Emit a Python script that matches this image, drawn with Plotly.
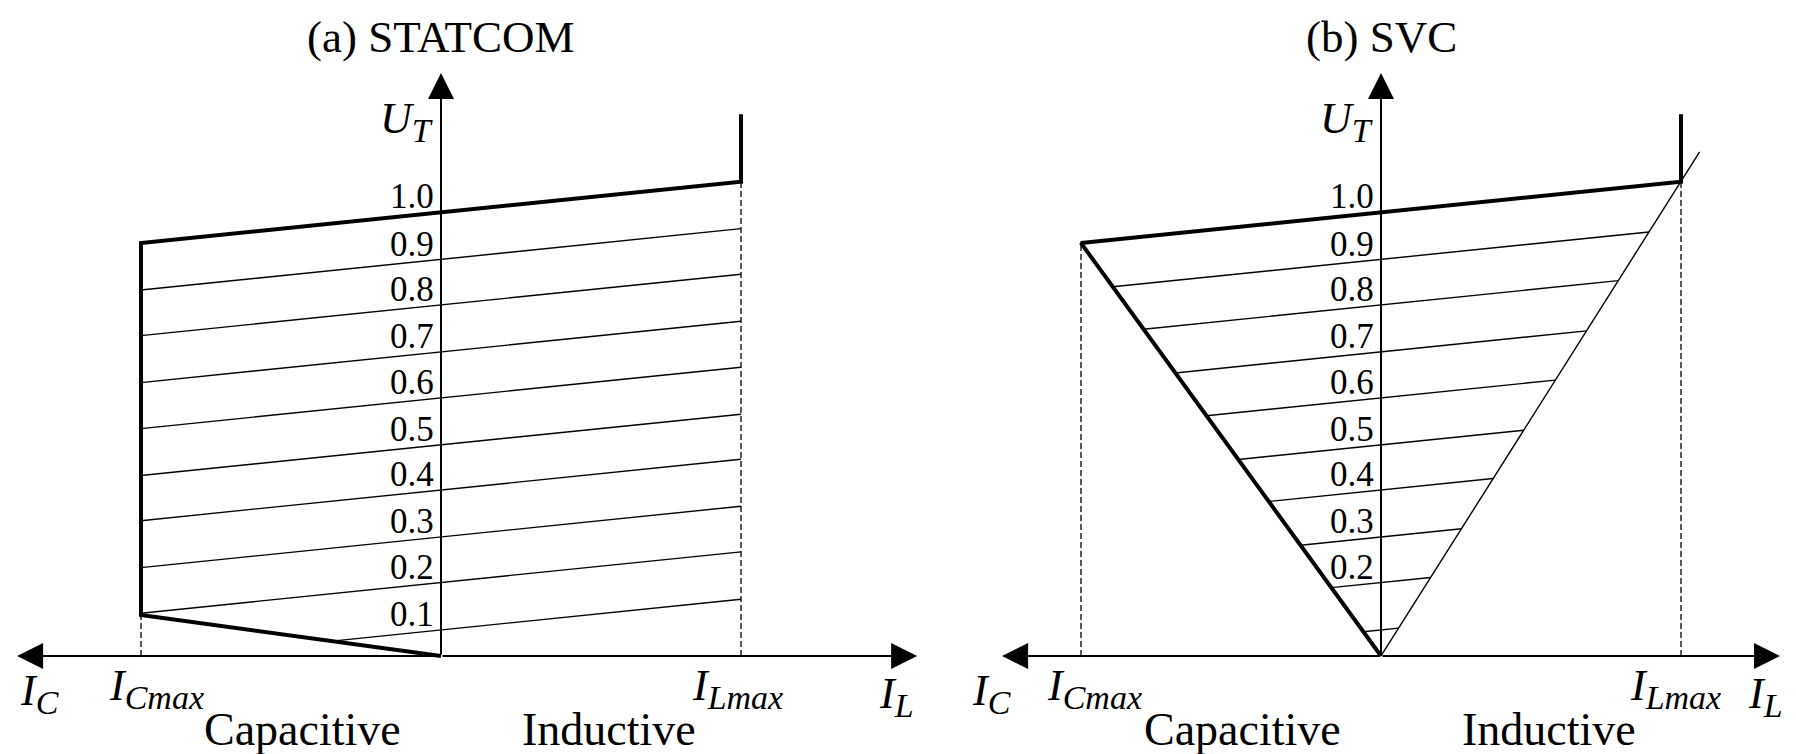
import plotly.graph_objects as go

# ---------------- data (normalised current I, terminal voltage U) ----------------
I_CMAX = -1.0
I_LMAX = 1.0

# labels of the family of V-I characteristics
levels = ["1.0", "0.9", "0.8", "0.7", "0.6", "0.5", "0.4", "0.3", "0.2", "0.1"]
# voltage where each characteristic crosses I = 0
u_at_zero = [0.956, 0.853, 0.755, 0.654, 0.555, 0.454, 0.357, 0.256, 0.158, 0.056]
droop_slope = 0.066  # dU/dI of each characteristic

# STATCOM thick outline
statcom_I = [1.0, 1.0, -1.0, -1.0, 0.0]
statcom_U = [1.165, 1.020, 0.888, 0.088, 0.0]

# SVC thick outline
svc_I = [1.0, 1.0, -1.0, 0.0]
svc_U = [1.165, 1.020, 0.888, 0.0]
# SVC inductive limit (thin)
svc_lim_I = [0.0, 1.062]
svc_lim_U = [0.0, 1.084]

svc_labelled = ["1.0", "0.9", "0.8", "0.7", "0.6", "0.5", "0.4", "0.3", "0.2"]

# axis extents (arrow tips)
left_axis = dict(xmin=-1.413, xmax=1.587, ymax=1.254)
right_axis = dict(xmin=-1.263, xmax=1.330, ymax=1.254)

FONT = "Liberation Serif, Times New Roman, serif"
BLACK = "black"

fig = go.Figure()


def line(xs, ys, w, xa, ya, dash=None):
    fig.add_trace(go.Scatter(x=xs, y=ys, mode="lines",
                             line=dict(color=BLACK, width=w, dash=dash),
                             xaxis=xa, yaxis=ya, hoverinfo="skip",
                             showlegend=False, cliponaxis=False))


# ---------------- (a) STATCOM ----------------
xa, ya = "x", "y"
bottom_slope = (statcom_U[3] - statcom_U[4]) / (statcom_I[3] - statcom_I[4])
for u0 in u_at_zero[1:]:
    i_start = max(I_CMAX, -u0 / (droop_slope - bottom_slope))
    line([i_start, I_LMAX], [u0 + droop_slope * i_start, u0 + droop_slope * I_LMAX], 1.4, xa, ya)
# dashed limits
line([I_CMAX, I_CMAX], [0, statcom_U[3]], 1.3, xa, ya, dash="6px,3px")
line([I_LMAX, I_LMAX], [0, statcom_U[1]], 1.3, xa, ya, dash="6px,3px")
line(statcom_I, statcom_U, 4, xa, ya)

# ---------------- (b) SVC ----------------
xa, ya = "x2", "y2"
k_left = (svc_U[2] - svc_U[3]) / (svc_I[3] - svc_I[2])
k_right = svc_lim_U[1] / svc_lim_I[1]
for u0 in u_at_zero[1:]:
    il = -u0 / (k_left + droop_slope)
    ir = u0 / (k_right - droop_slope)
    line([il, ir], [u0 + droop_slope * il, u0 + droop_slope * ir], 1.4, xa, ya)
line([I_CMAX, I_CMAX], [0, svc_U[2]], 1.3, xa, ya, dash="6px,3px")
line([I_LMAX, I_LMAX], [0, svc_U[1]], 1.3, xa, ya, dash="6px,3px")
line(svc_lim_I, svc_lim_U, 1.4, xa, ya)
line(svc_I, svc_U, 4, xa, ya)

annotations = []


def arrow(x, y, xr, yr):
    annotations.append(dict(x=x, y=y, ax=0, ay=0, xref=xr, yref=yr, axref=xr, ayref=yr,
                            text="", showarrow=True, arrowhead=2, arrowsize=2.6,
                            arrowwidth=2, arrowcolor=BLACK))


def text(t, x, y, xr, yr, size, xanchor="center", yanchor="middle", xshift=0, yshift=0):
    annotations.append(dict(x=x, y=y, xref=xr, yref=yr, text=t, showarrow=False,
                            xanchor=xanchor, yanchor=yanchor, xshift=xshift, yshift=yshift,
                            font=dict(family=FONT, size=size, color=BLACK)))


def sym(main, sub):
    return f"<i>{main}<sub><span style='font-size:34px'>{sub}</span></sub></i>"


for (xr, yr, ax_ext, title, lbls, pos) in [
    ("x", "y", left_axis, "(a) STATCOM", levels,
     dict(ic=-1.337, icm=-1.113, ilm=0.83, il=1.453)),
    ("x2", "y2", right_axis, "(b) SVC", svc_labelled,
     dict(ic=-1.30, icm=-1.12, ilm=0.823, il=1.217)),
]:
    arrow(ax_ext["xmax"], 0, xr, yr)
    arrow(ax_ext["xmin"], 0, xr, yr)
    arrow(0, ax_ext["ymax"], xr, yr)
    text(title, 0.0, 1.331, xr, yr, 45)
    text(sym("U", "T"), -0.02, 1.15, xr, yr, 44, xanchor="right")
    for lab in lbls:
        u0 = u_at_zero[levels.index(lab)]
        text(lab, 0, u0, xr, yr, 35, xanchor="right", yanchor="middle", xshift=-5, yshift=15)
    text(sym("I", "C"), pos["ic"], -0.08, xr, yr, 44)
    text(sym("I", "Cmax"), pos["icm"], -0.069, xr, yr, 44, xanchor="left")
    text(sym("I", "Lmax"), pos["ilm"], -0.069, xr, yr, 44, xanchor="left")
    text(sym("I", "L"), pos["il"], -0.088, xr, yr, 44, xanchor="left")
    text("Capacitive", -0.463, -0.158, xr, yr, 46)
    text("Inductive", 0.56, -0.158, xr, yr, 46)

ax_common = dict(visible=False, showgrid=False, zeroline=False, fixedrange=True)
fig.update_layout(
    width=1796, height=754,
    margin=dict(l=0, r=0, t=0, b=0),
    paper_bgcolor="white", plot_bgcolor="white",
    showlegend=False, hovermode=False,
    xaxis=dict(domain=[0, 0.5], range=[-1.47, 1.5233], **ax_common),
    yaxis=dict(domain=[0, 1], range=[-0.2108, 1.4108], anchor="x", **ax_common),
    xaxis2=dict(domain=[0.5, 1], range=[-1.61, 1.3833], anchor="y2", **ax_common),
    yaxis2=dict(domain=[0, 1], range=[-0.2108, 1.4108], anchor="x2", **ax_common),
    annotations=annotations,
)

fig.write_html("out.html", config={"displayModeBar": False},
               post_script="document.body.style.margin='0';document.body.style.overflow='hidden';")
